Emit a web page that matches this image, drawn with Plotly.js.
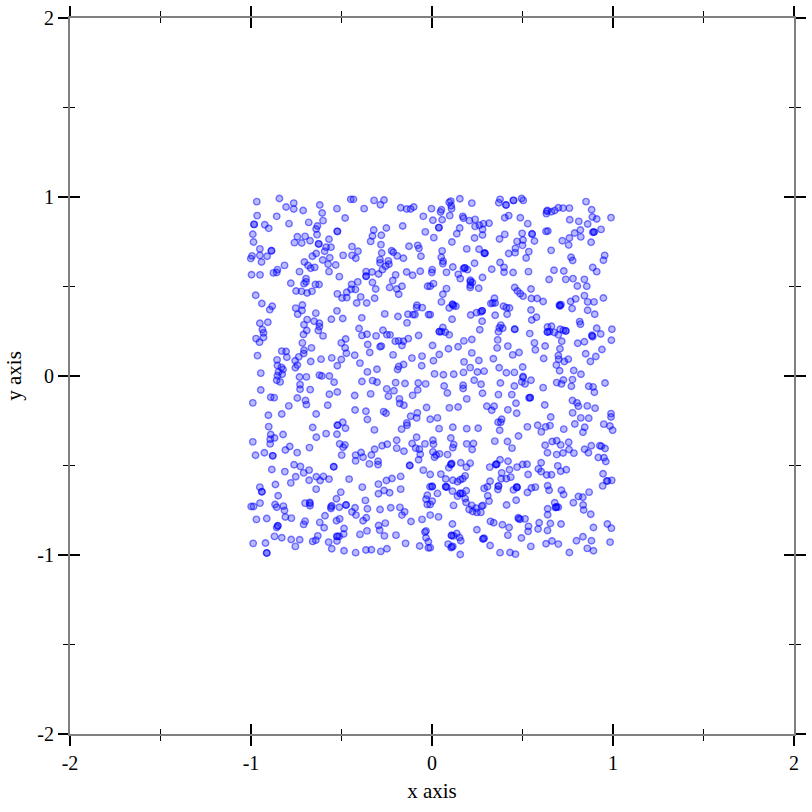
<!DOCTYPE html>
<html><head><meta charset="utf-8"><script src="https://cdn.plot.ly/plotly-3.0.0.min.js"></script>
<style>html,body{margin:0;padding:0;background:#fff}</style></head><body><div id="c" style="width:812px;height:812px"></div>
<script>
const pointsUpperLeft=[[-.843,.992],[-.968,.974],[-.806,.944],[-.764,.966],[-.764,.933],[-.712,.925],[-.620,.955],[-.525,.935],[-.449,.987],[-.434,.987],[-.320,.981],[-.265,.983],[-.285,.957],[-.375,.935],[-.173,.940],[-.140,.933],[-.118,.933],[-.101,.944],[-.966,.896],[-.858,.892],[-.607,.911],[-.602,.868],[-.681,.858],[-.790,.851],[-.480,.883],[-.048,.892],[-.983,.847],[-.924,.845],[-.902,.825],[-.633,.838],[-.640,.821],[-.635,.790],[-.162,.838],[-.523,.808],[-.322,.816],[-.252,.827],[-.990,.792],[-.744,.778],[-.701,.780],[-.674,.756],[-.760,.745],[-.720,.743],[-.986,.749],[-.569,.764],[-.626,.738],[-.329,.782],[-.280,.786],[-.339,.752],[-.037,.805],[-.282,.734],[-.585,.719],[-.558,.719],[-.593,.697],[-.442,.723],[-.409,.697],[-.951,.710],[-.887,.700],[-.994,.671],[-1.001,.656],[-.951,.674],[-.911,.669],[-.942,.637],[-.640,.684],[-.661,.669],[-.491,.674],[-.442,.674],[-.421,.658],[-.565,.661],[-.604,.648],[-.278,.687],[-.223,.700],[-.214,.691],[-.192,.671],[-.158,.658],[-.127,.725],[-.079,.730],[-.072,.713],[-.061,.669],[-.705,.637],[-.815,.618],[-.685,.618],[-.670,.602],[-.648,.607],[-.574,.624],[-.532,.620],[-.569,.583],[-.287,.650],[-.287,.632],[-.241,.643],[-.238,.624],[-.256,.613],[-.274,.594],[-.997,.566],[-.950,.565],[-.876,.576],[-.854,.594],[-.858,.578],[-.732,.583],[-.140,.581],[-.107,.563],[-.065,.585],[-.364,.583],[-.364,.557],[-.331,.581],[-.295,.570],[-.201,.565],[-.512,.555],[-.696,.544],[-.696,.526],[-.707,.516],[-.780,.518],[-.644,.511],[-.624,.511],[-.217,.533],[-.444,.512],[-.410,.526],[-.329,.522],[-.234,.494],[-.166,.501],[-.195,.486],[-.024,.501],[-.311,.486],[-.751,.475],[-.721,.473],[-.690,.464],[-.663,.473],[-.447,.485],[-.423,.483],[-.471,.468],[-.523,.459],[-.974,.451],[-.497,.436],[-.471,.438],[-.184,.457],[-.394,.442],[-.317,.434],[-.416,.408],[-.361,.408],[-.940,.405],[-.883,.390],[-.896,.371],[-.753,.379],[-.716,.397],[-.718,.366],[-.742,.345],[-.642,.351],[-.525,.364],[-.083,.395],[-.085,.382],[-.054,.382],[-.261,.347],[-.188,.332],[-.133,.345],[-.105,.343],[-.094,.343],[-.019,.343],[-.388,.325],[-.556,.317],[-.493,.321],[-.690,.315],[-.651,.306],[-.951,.295],[-.907,.300],[-.707,.287],[-.622,.295],[-.622,.276],[-.138,.297],[-.937,.260],[-.931,.241],[-.692,.254],[-.628,.254],[-.403,.265],[-.271,.256],[-.972,.209],[-.931,.215],[-.710,.232],[-.602,.224],[-.387,.226],[-.359,.233],[-.309,.224],[-.249,.230],[-.232,.230],[-.074,.226],[-.953,.189],[-.477,.207],[-.501,.185],[-.355,.176],[-.203,.194],[-.184,.196],[-.158,.194],[-.131,.209],[-.716,.185],[-.666,.157],[-.480,.157],[-.166,.170],[-.287,.163],[-.280,.167],[-.344,.131],[-.830,.139],[-.806,.137],[-.707,.144],[-.709,.126],[-.473,.127],[-.964,.114],[-.802,.105],[-.736,.107],[-.427,.116],[-.215,.118],[-.055,.111],[-.856,.090],[-.756,.085],[-.670,.081],[-.613,.094],[-.554,.101],[-.501,.092],[-.111,.100],[-.398,.072],[-.523,.057],[-.854,.059],[-.832,.048],[-.823,.036],[-.848,.023],[-.744,.061],[-.755,.046],[-.157,.064],[-.184,.053],[-.057,.057],[-.190,.036],[-.304,.038],[-.357,.023],[-.946,.016],[-.828,.010],[-.854,.001],[-.732,-.006],[-.694,-.005],[-.622,.005],[-.609,0],[-.567,0]];
const pointsUpperRight=[[.154,.990],[.104,.977],[.095,.970],[.220,.966],[-.003,.935],[.052,.929],[.047,.916],[.106,.951],[.108,.935],[.098,.896],[.376,.987],[.369,.968],[.409,.955],[.450,.981],[.450,.981],[.495,.992],[.504,.981],[.851,.974],[.882,.929],[.759,.938],[.724,.938],[.698,.940],[.678,.925],[.660,.918],[.638,.925],[.632,.907],[.886,.888],[.910,.877],[.989,.885],[.170,.892],[.174,.881],[.207,.868],[.238,.875],[.056,.873],[.005,.870],[.238,.836],[.262,.842],[.284,.851],[.315,.853],[.279,.819],[.424,.896],[.402,.884],[.488,.884],[.529,.851],[.761,.873],[.811,.864],[.860,.849],[.038,.829],[.153,.827],[.137,.795],[.279,.788],[.235,.771],[.010,.773],[.110,.749],[.402,.791],[.373,.765],[.498,.797],[.553,.792],[.553,.795],[.630,.808],[.640,.810],[.820,.816],[.788,.799],[.759,.771],[.822,.777],[.720,.756],[.934,.819],[.895,.804],[.888,.803],[.879,.747],[.566,.754],[.470,.752],[.503,.760],[.500,.730],[.755,.732],[.461,.713],[.459,.689],[.424,.684],[.192,.710],[.260,.708],[.290,.686],[.293,.686],[.056,.699],[.051,.663],[.061,.641],[.060,.628],[.535,.695],[.520,.659],[.658,.702],[.768,.663],[.777,.645],[.954,.674],[.947,.647],[.235,.630],[.376,.634],[.398,.607],[.398,.580],[.330,.596],[.115,.609],[.174,.600],[.181,.604],[.196,.594],[.080,.579],[.145,.568],[.156,.544],[.001,.594],[-.001,.578],[.448,.578],[.533,.583],[.674,.591],[.728,.587],[.888,.606],[.910,.583],[.279,.550],[.212,.535],[.223,.522],[.212,.507],[.211,.494],[.258,.490],[.008,.516],[-.010,.501],[.647,.539],[.739,.540],[.779,.544],[.842,.540],[.803,.503],[.855,.501],[.080,.488],[.060,.457],[.457,.494],[.472,.475],[.487,.460],[.503,.446],[.547,.486],[.842,.449],[.345,.434],[.549,.433],[.581,.433],[.614,.416],[.794,.431],[.766,.416],[.860,.414],[.895,.414],[.947,.436],[.052,.414],[.336,.408],[.325,.405],[.349,.408],[.113,.401],[.119,.392],[.132,.390],[.095,.380],[.704,.395],[.713,.399],[.707,.391],[.774,.377],[.395,.390],[.411,.382],[.428,.380],[.547,.369],[.860,.367],[.277,.364],[.269,.358],[.246,.354],[.214,.341],[.349,.339],[.415,.345],[-.010,.343],[.899,.345],[.111,.317],[.277,.306],[.551,.313],[.577,.328],[.816,.304],[.820,.289],[.380,.284],[.372,.269],[.391,.267],[.060,.271],[.041,.248],[.052,.248],[.073,.245],[.095,.230],[.264,.258],[.457,.261],[.367,.247],[.540,.237],[.638,.274],[.660,.278],[.638,.246],[.649,.248],[.676,.243],[.708,.261],[.726,.256],[.739,.252],[.698,.230],[.910,.267],[.994,.261],[.932,.235],[.884,.228],[.888,.219],[.717,.194],[.363,.202],[.220,.204],[.176,.196],[.003,.170],[.144,.163],[.091,.152],[.360,.157],[.419,.167],[.625,.168],[.566,.185],[.571,.146],[.707,.152],[.805,.183],[.842,.191],[.991,.200],[.939,.148],[.220,.129],[.040,.120],[.446,.118],[.481,.131],[.849,.124],[.339,.096],[.617,.098],[.698,.114],[.700,.094],[.753,.094],[.731,.081],[.905,.109],[.875,.081],[.008,.085],[.177,.079],[.259,.087],[.211,.047],[.687,.061],[.371,.046],[.501,.050],[.705,.029],[.783,.031],[.014,.012],[.063,.007],[.120,.010],[.174,.020],[.251,.022],[.288,.027],[.411,.018],[.455,.020],[.823,.010],[.503,-.003]];
const pointsLowerLeft=[[-.858,-.024],[-.839,-.033],[-.729,-.048],[-.729,-.074],[-.673,-.076],[-.946,-.078],[-.541,-.035],[-.387,-.031],[-.328,-.026],[-.304,-.035],[-.201,-.037],[-.149,-.042],[-.076,-.039],[-.035,-.044],[-.250,-.072],[-.210,-.082],[-.079,-.078],[-.523,-.089],[-.567,-.102],[-.427,-.109],[-.339,-.100],[-.241,-.113],[-.107,-.108],[-.891,-.119],[-.872,-.121],[-.744,-.123],[-.699,-.137],[-.694,-.160],[-.990,-.150],[-.180,-.128],[-.178,-.154],[-.155,-.163],[-.791,-.167],[-.576,-.163],[-.425,-.190],[-.365,-.197],[-.267,-.199],[-.254,-.208],[-.081,-.206],[-.030,-.176],[-.830,-.212],[-.904,-.219],[-.640,-.212],[-.118,-.225],[-.085,-.234],[-.357,-.243],[-.139,-.262],[-.138,-.275],[-.493,-.258],[-.523,-.275],[-.478,-.292],[-.902,-.283],[-.659,-.288],[-.318,-.301],[-.168,-.297],[-.891,-.327],[-.823,-.327],[-.585,-.322],[-.525,-.325],[-.639,-.342],[-.870,-.346],[-.894,-.353],[-.894,-.379],[-.990,-.368],[-.195,-.359],[-.085,-.342],[-.786,-.394],[-.810,-.413],[-.677,-.400],[-.510,-.379],[-.481,-.385],[-.491,-.398],[-.276,-.390],[-.247,-.381],[-.317,-.409],[-.195,-.403],[-.110,-.377],[-.039,-.379],[-.090,-.403],[-.070,-.409],[-.155,-.420],[-.745,-.428],[-.926,-.429],[-.975,-.443],[-.880,-.446],[-.499,-.442],[-.422,-.442],[-.392,-.427],[-.381,-.454],[-.335,-.441],[-.065,-.437],[-.074,-.468],[-.422,-.474],[-.346,-.491],[-.298,-.476],[-.298,-.495],[-.762,-.496],[-.727,-.506],[-.543,-.507],[-.123,-.500],[-.885,-.522],[-.813,-.534],[-.709,-.541],[-.679,-.526],[-.048,-.526],[-.753,-.563],[-.639,-.563],[-.600,-.561],[-.618,-.584],[-.569,-.576],[-.679,-.582],[-.458,-.576],[-.780,-.597],[-.865,-.606],[-.252,-.584],[-.221,-.573],[-.173,-.561],[-.296,-.604],[-.011,-.619],[-.951,-.621],[-.940,-.647],[-.640,-.632],[-.385,-.621],[-.173,-.632],[-.265,-.640],[-.234,-.652],[-.296,-.658],[-.504,-.649],[-.850,-.669],[-.026,-.666],[-.528,-.686],[-.033,-.688],[-.368,-.695],[-.950,-.710],[-.986,-.729],[-.999,-.729],[-.867,-.718],[-.858,-.733],[-.821,-.727],[-.815,-.751],[-.701,-.710],[-.675,-.706],[-.674,-.725],[-.554,-.725],[-.558,-.740],[-.512,-.733],[-.475,-.721],[-.425,-.736],[-.357,-.742],[-.287,-.746],[-.228,-.736],[-.177,-.734],[-.026,-.718],[-.442,-.759],[-.420,-.777],[-.151,-.759],[-.166,-.777],[-.591,-.781],[-.810,-.788],[-.777,-.794],[-.913,-.796],[-.970,-.801],[-.363,-.792],[-.381,-.809],[-.510,-.798],[-.528,-.809],[-.620,-.818],[-.701,-.811],[-.709,-.829],[-.055,-.801],[-.116,-.813],[-.295,-.835],[-.258,-.822],[-.596,-.848],[-.486,-.852],[-.289,-.861],[-.852,-.837],[-.858,-.846],[-.033,-.866],[-.039,-.872],[-.359,-.865],[-.488,-.883],[-.398,-.885],[-.199,-.889],[-.631,-.893],[-.263,-.893],[-.526,-.896],[-.513,-.896],[-.033,-.904],[-.870,-.896],[-.830,-.904],[-.778,-.913],[-.731,-.915],[-.642,-.917],[-.659,-.924],[-.571,-.928],[-.525,-.922],[-.988,-.935],[-.920,-.933],[-.146,-.935],[-.020,-.926],[-.755,-.952],[-.554,-.965],[-.068,-.950],[-.486,-.976],[-.365,-.972],[-.335,-.971],[-.249,-.965],[-.020,-.960],[-.283,-.980],[-.422,-.987],[-.913,-.989]];
const pointsLowerRight=[[.233,-.024],[.378,-.039],[.496,-.033],[.503,-.008],[.514,-.044],[.547,-.024],[.689,-.037],[.715,-.044],[.726,-.022],[.776,-.020],[.770,-.057],[.956,-.039],[.067,-.056],[.172,-.052],[.172,-.070],[.271,-.046],[.455,-.056],[.614,-.065],[.866,-.057],[.890,-.061],[.897,-.091],[.085,-.095],[.279,-.096],[.367,-.104],[.441,-.104],[.542,-.121],[.536,-.122],[.192,-.128],[.776,-.137],[.801,-.150],[.809,-.169],[.858,-.167],[.901,-.180],[.464,-.152],[.623,-.162],[.096,-.178],[.144,-.173],[.303,-.169],[.343,-.169],[.330,-.191],[.419,-.189],[.468,-.208],[.777,-.206],[.989,-.210],[.989,-.229],[.030,-.234],[.385,-.242],[.365,-.258],[.380,-.258],[.374,-.303],[.656,-.229],[.822,-.234],[.866,-.236],[.789,-.268],[.949,-.269],[.983,-.279],[.998,-.303],[-.010,-.242],[.039,-.294],[.115,-.286],[.192,-.294],[.255,-.292],[.527,-.284],[.584,-.275],[.628,-.284],[.652,-.277],[.604,-.312],[.728,-.297],[.844,-.286],[.834,-.314],[.478,-.335],[.104,-.346],[.005,-.359],[.008,-.381],[.120,-.383],[.115,-.401],[.192,-.379],[.229,-.377],[.222,-.411],[.347,-.364],[.417,-.366],[.442,-.403],[.664,-.366],[.689,-.362],[.711,-.385],[.755,-.370],[.625,-.387],[.757,-.411],[.724,-.430],[.638,-.429],[.689,-.439],[.784,-.431],[.843,-.409],[.880,-.390],[.864,-.429],[.927,-.390],[.936,-.392],[.956,-.405],[.005,-.424],[.023,-.441],[.014,-.454],[.041,-.435],[.086,-.439],[.919,-.455],[.950,-.457],[.960,-.478],[.109,-.489],[.104,-.494],[.093,-.513],[.159,-.485],[.211,-.487],[.190,-.509],[.376,-.468],[.420,-.476],[.358,-.493],[.352,-.494],[.319,-.509],[.470,-.509],[.501,-.494],[.525,-.493],[.603,-.485],[.695,-.502],[.588,-.519],[.603,-.534],[.711,-.532],[.742,-.524],[.428,-.524],[.385,-.541],[-.010,-.550],[.049,-.548],[.531,-.550],[.634,-.553],[.660,-.552],[.945,-.546],[.183,-.558],[.170,-.574],[.156,-.580],[.076,-.575],[.115,-.582],[.141,-.591],[.382,-.574],[.411,-.574],[.435,-.565],[.321,-.588],[.965,-.587],[.993,-.583],[.943,-.614],[.970,-.587],[.001,-.617],[.076,-.619],[.082,-.621],[.639,-.613],[.306,-.619],[.288,-.628],[.367,-.614],[.364,-.634],[.468,-.621],[.450,-.636],[.470,-.623],[.549,-.626],[.571,-.621],[.647,-.638],[.715,-.638],[.189,-.641],[.113,-.643],[.155,-.656],[.168,-.656],[.527,-.651],[.727,-.662],[.030,-.656],[.868,-.649],[.141,-.671],[.308,-.669],[.183,-.684],[.315,-.699],[.465,-.694],[.809,-.673],[.833,-.677],[.188,-.707],[.001,-.699],[-.010,-.718],[.119,-.723],[.220,-.723],[.281,-.723],[.243,-.738],[.412,-.721],[.781,-.708],[.678,-.708],[.689,-.731],[.682,-.735],[.698,-.733],[.835,-.721],[.838,-.749],[.639,-.742],[.877,-.772],[.205,-.746],[.225,-.757],[.248,-.762],[.270,-.762],[.639,-.775],[.036,-.787],[-.010,-.777],[.477,-.792],[.487,-.800],[.514,-.798],[.323,-.812],[.341,-.820],[.389,-.831],[.426,-.846],[.113,-.827],[.592,-.820],[.654,-.824],[.713,-.827],[.533,-.840],[.531,-.868],[.586,-.855],[.638,-.863],[.892,-.846],[.969,-.827],[.991,-.850],[.248,-.859],[.419,-.889],[.494,-.905],[.108,-.891],[.119,-.893],[.137,-.880],[.152,-.902],[.159,-.920],[.281,-.911],[.288,-.906],[.663,-.922],[.630,-.937],[.698,-.939],[.798,-.920],[.834,-.898],[.881,-.920],[.984,-.928],[.089,-.939],[.115,-.952],[.106,-.959],[.321,-.947],[.546,-.952],[.858,-.963],[.892,-.976],[-.010,-.959],[.376,-.987],[.431,-.986],[.461,-.995],[.759,-.986],[.156,-.997]];
const pointsCoincident=[[-.983,.847],[-.887,.700],[-.626,.738],[-.523,.808],[-.364,.557],[.038,.829],[.409,.955],[.290,.686],[.181,.604],[.212,.526],[.707,.395],[.115,.399],[.277,.364],[.041,.248],[.457,.261],[.638,.246],[.739,.252],[.884,.224],[.634,.920],[.895,.804],[-.880,-.446],[-.940,-.647],[-.543,-.507],[-.123,-.500],[-.558,-.731],[-.475,-.721],[-.913,-.989],[-.521,-.275],[-.852,-.838],[-.675,-.712],[-.523,-.896],[.542,-.121],[.106,-.493],[.354,-.494],[.367,-.615],[.468,-.621],[.685,-.733],[.479,-.798],[.108,-.891],[.109,-.954],[.284,-.909],[.156,-.656],[.275,-.727],[.001,-.617],[.076,-.619]];
const tickVals=[-2,-1,0,1,2];
const minorVals=[-1.5,-0.5,0.5,1.5];
const points=[...pointsUpperLeft,...pointsUpperRight,...pointsLowerLeft,...pointsLowerRight,...pointsCoincident];
const xs=points.map(p=>p[0]);
const ys=points.map(p=>p[1]);
const family='"Liberation Serif",serif';
function ax(dir,extra){return Object.assign({range:[-2,2],autorange:false,showgrid:false,zeroline:false,showline:true,linecolor:'#808080',linewidth:2,mirror:'ticks',tickmode:'array',tickvals:tickVals,ticktext:tickVals.map(String),ticks:dir,tickcolor:'#000',tickwidth:2,ticklen:10,
minor:{tickmode:'array',tickvals:minorVals,ticks:dir,ticklen:5,tickwidth:1,tickcolor:'#000'},tickfont:{family:family,size:20,color:'#000'}},extra);}
const data=[
{type:'scatter',mode:'markers',x:[9],y:[9],xaxis:'x2',yaxis:'y2',hoverinfo:'skip',marker:{opacity:0}},
{type:'scatter',mode:'markers',x:xs,y:ys,marker:{size:6.5,color:'rgba(0,0,255,0.27)',line:{width:1.4,color:'rgba(0,0,255,0.5)'}},hoverinfo:'skip'}];
const layout={width:812,height:812,margin:{l:70,r:18,t:18,b:78},paper_bgcolor:'#fff',plot_bgcolor:'#fff',showlegend:false,
xaxis:ax('outside',{title:{text:'x axis',font:{family:family,size:21,color:'#000'},standoff:10}}),
yaxis:ax('outside',{title:{text:'y axis',font:{family:family,size:21,color:'#000'},standoff:10}}),
xaxis2:ax('inside',{overlaying:'x',anchor:'y2',side:'bottom',showticklabels:false}),
yaxis2:ax('inside',{overlaying:'y',anchor:'x2',side:'left',showticklabels:false})};
Plotly.newPlot('c',data,layout,{displayModeBar:false,staticPlot:true});
</script></body></html>
